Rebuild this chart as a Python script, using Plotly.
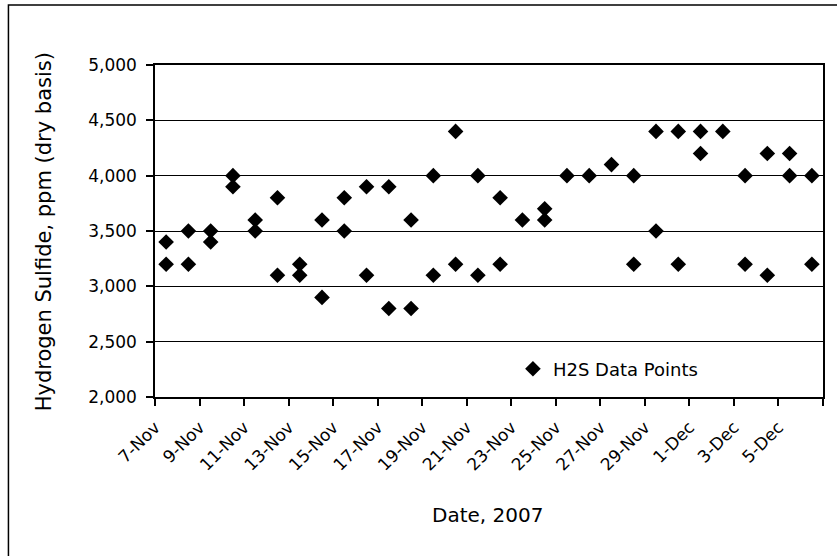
import plotly.graph_objects as go

# H2S readings: sample time (mid-day) and concentration, ppm dry basis
sample_time = [
    "2007-11-07 12:00", "2007-11-07 12:00",
    "2007-11-08 12:00", "2007-11-08 12:00",
    "2007-11-09 12:00", "2007-11-09 12:00",
    "2007-11-10 12:00", "2007-11-10 12:00",
    "2007-11-11 12:00", "2007-11-11 12:00",
    "2007-11-12 12:00", "2007-11-12 12:00",
    "2007-11-13 12:00", "2007-11-13 12:00",
    "2007-11-14 12:00", "2007-11-14 12:00",
    "2007-11-15 12:00", "2007-11-15 12:00",
    "2007-11-16 12:00", "2007-11-16 12:00",
    "2007-11-17 12:00", "2007-11-17 12:00",
    "2007-11-18 12:00", "2007-11-18 12:00",
    "2007-11-19 12:00", "2007-11-19 12:00",
    "2007-11-20 12:00", "2007-11-20 12:00",
    "2007-11-21 12:00", "2007-11-21 12:00",
    "2007-11-22 12:00", "2007-11-22 12:00",
    "2007-11-23 12:00",
    "2007-11-24 12:00", "2007-11-24 12:00",
    "2007-11-25 12:00",
    "2007-11-26 12:00",
    "2007-11-27 12:00",
    "2007-11-28 12:00", "2007-11-28 12:00",
    "2007-11-29 12:00", "2007-11-29 12:00",
    "2007-11-30 12:00", "2007-11-30 12:00",
    "2007-12-01 12:00", "2007-12-01 12:00",
    "2007-12-02 12:00",
    "2007-12-03 12:00", "2007-12-03 12:00",
    "2007-12-04 12:00", "2007-12-04 12:00",
    "2007-12-05 12:00", "2007-12-05 12:00",
    "2007-12-06 12:00", "2007-12-06 12:00",
]
h2s_ppm = [
    3400, 3200,
    3500, 3200,
    3500, 3400,
    4000, 3900,
    3600, 3500,
    3800, 3100,
    3200, 3100,
    3600, 2900,
    3800, 3500,
    3900, 3100,
    3900, 2800,
    3600, 2800,
    4000, 3100,
    4400, 3200,
    4000, 3100,
    3800, 3200,
    3600,
    3700, 3600,
    4000,
    4000,
    4100,
    4000, 3200,
    4400, 3500,
    4400, 3200,
    4400, 4200,
    4400,
    4000, 3200,
    4200, 3100,
    4200, 4000,
    4000, 3200,
]

# Date axis ticks every two days
tick_dates = [
    "2007-11-07", "2007-11-09", "2007-11-11", "2007-11-13", "2007-11-15",
    "2007-11-17", "2007-11-19", "2007-11-21", "2007-11-23", "2007-11-25",
    "2007-11-27", "2007-11-29", "2007-12-01", "2007-12-03", "2007-12-05",
    "2007-12-07",
]
tick_labels = [
    "7-Nov", "9-Nov", "11-Nov", "13-Nov", "15-Nov", "17-Nov", "19-Nov",
    "21-Nov", "23-Nov", "25-Nov", "27-Nov", "29-Nov", "1-Dec", "3-Dec",
    "5-Dec", "",
]
y_ticks = [2000, 2500, 3000, 3500, 4000, 4500, 5000]

FONT = "DejaVu Sans, Arial, sans-serif"
W, H = 837, 556
ML, MR, MT, MB = 155, 12, 65, 159
PW, PH = W - ML - MR, H - MT - MB


def px_x(px):
    return (px - ML) / PW


def px_y(py):
    return (H - MB - py) / PH


fig = go.Figure()
fig.add_trace(go.Scatter(
    x=sample_time, y=h2s_ppm, mode="markers", name="H2S Data Points",
    marker=dict(symbol="diamond", size=12, color="black"),
))

fig.update_layout(
    width=W, height=H,
    margin=dict(l=ML, r=MR, t=MT, b=MB),
    paper_bgcolor="white", plot_bgcolor="white",
    font=dict(family=FONT, size=17, color="black"),
    showlegend=True,
    legend=dict(
        x=px_x(514), y=px_y(369), xanchor="left", yanchor="middle",
        bgcolor="rgba(0,0,0,0)", font=dict(size=18), itemwidth=30,
    ),
    xaxis=dict(
        type="date", range=["2007-11-07", "2007-12-07"],
        tickmode="array", tickvals=tick_dates, ticktext=tick_labels,
        tickangle=-45, ticks="outside", ticklen=7, tickcolor="black", tickwidth=1.5,
        ticklabelstandoff=5,
        showline=True, linecolor="black", linewidth=1.5, mirror=True,
        showgrid=False, zeroline=False, tickfont=dict(size=17),
    ),
    yaxis=dict(
        range=[2000, 5000], tickmode="array", tickvals=y_ticks,
        tickformat=",d", ticks="outside", ticklen=7, tickcolor="black", tickwidth=1.5,
        ticklabelstandoff=6,
        showline=True, linecolor="black", linewidth=1.5, mirror=True,
        showgrid=True, gridcolor="black", gridwidth=1.2, zeroline=False,
        tickfont=dict(size=17),
    ),
    annotations=[
        dict(
            text="Date, 2007", xref="paper", yref="paper",
            x=px_x(488), y=px_y(515), xanchor="center", yanchor="middle",
            showarrow=False, font=dict(size=20),
        ),
        dict(
            text="Hydrogen Sulfide, ppm (dry basis)", xref="paper", yref="paper",
            x=px_x(44), y=px_y(232), xanchor="center", yanchor="middle",
            textangle=-90, showarrow=False, font=dict(size=21),
        ),
    ],
    shapes=[dict(
        type="rect", xref="paper", yref="paper",
        x0=px_x(8), x1=px_x(850), y0=px_y(570), y1=px_y(5),
        line=dict(color="black", width=1.5), fillcolor="rgba(0,0,0,0)", layer="below",
    )],
)

fig.write_html("out.html")
